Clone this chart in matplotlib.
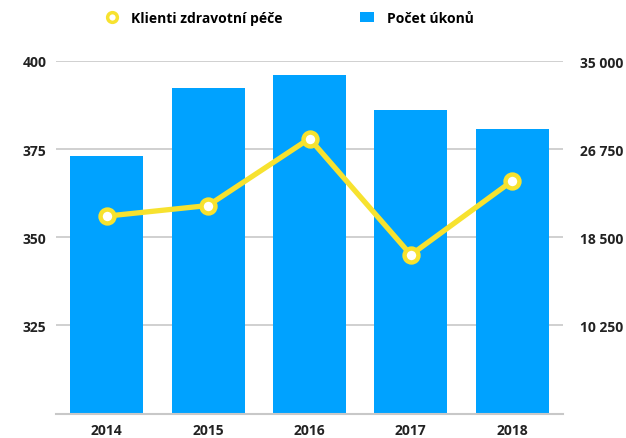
import matplotlib.pyplot as plt
from matplotlib.lines import Line2D
from matplotlib.patches import Patch

years = ["2014", "2015", "2016", "2017", "2018"]
klienti = [356, 359, 378, 345, 366]
ukony = [26100, 32450, 33700, 30400, 28600]

left_ticks = [325, 350, 375, 400]
right_ticks = [10250, 18500, 26750, 35000]

plt.rcParams['font.family'] = ['Open Sans', 'DejaVu Sans']
plt.rcParams['font.weight'] = 'bold'

yellow = '#F7E22F'
blue = '#00A2FF'
grid_c = '#C8C8C8'
fs = 10

fig = plt.figure(figsize=(6.26, 4.39), dpi=100)
ax = fig.add_axes([56 / 626, (439 - 414.5) / 439, 507 / 626, (414.5 - 62) / 439])
ax2 = ax.twinx()

x = range(len(years))

# bars go on ax2, kept behind the line axis
ax2.bar(x, ukony, width=0.72, color=blue, zorder=2)
ax2.set_ylim(2000, 35000)
ax2.set_yticks(right_ticks)
ax2.set_yticklabels([f"{v:,}".replace(",", " ") for v in right_ticks])
ax2.yaxis.grid(True, color=grid_c, linewidth=1.2)
ax2.set_axisbelow(True)
ax2.set_zorder(ax.get_zorder() - 1)
ax.patch.set_visible(False)

ax.plot(x, klienti, color=yellow, linewidth=3.8, marker='o', markersize=10,
        markerfacecolor='white', markeredgecolor=yellow, markeredgewidth=3.2, zorder=3)
ax.set_ylim(300, 400)
ax.set_yticks(left_ticks)
ax.set_xlim(-0.5, 4.5)
ax.set_xticks(list(x))
ax.set_xticklabels(years)

for a in (ax, ax2):
    for s in a.spines.values():
        s.set_visible(False)
    a.tick_params(length=0, labelsize=fs, labelcolor='#222222')
ax2.spines['bottom'].set_visible(True)
ax2.spines['bottom'].set_color(grid_c)
ax2.spines['bottom'].set_linewidth(1.5)
ax.tick_params(axis='y', pad=7)
ax.tick_params(axis='x', pad=7)
ax2.tick_params(axis='y', pad=12)

handles = [
    Line2D([], [], color='none', marker='o', markersize=7, markerfacecolor='white',
           markeredgecolor=yellow, markeredgewidth=2.5),
    Patch(facecolor=blue),
]
fig.legend(handles, ["Klienti zdravotní péče", "Počet úkonů"], loc='center',
           bbox_to_anchor=(0.462, 1 - 19 / 439), ncol=2, frameon=False,
           fontsize=fs, handlelength=1.0, handletextpad=0.9, columnspacing=5.6)

fig.savefig("out.png", dpi=100)
